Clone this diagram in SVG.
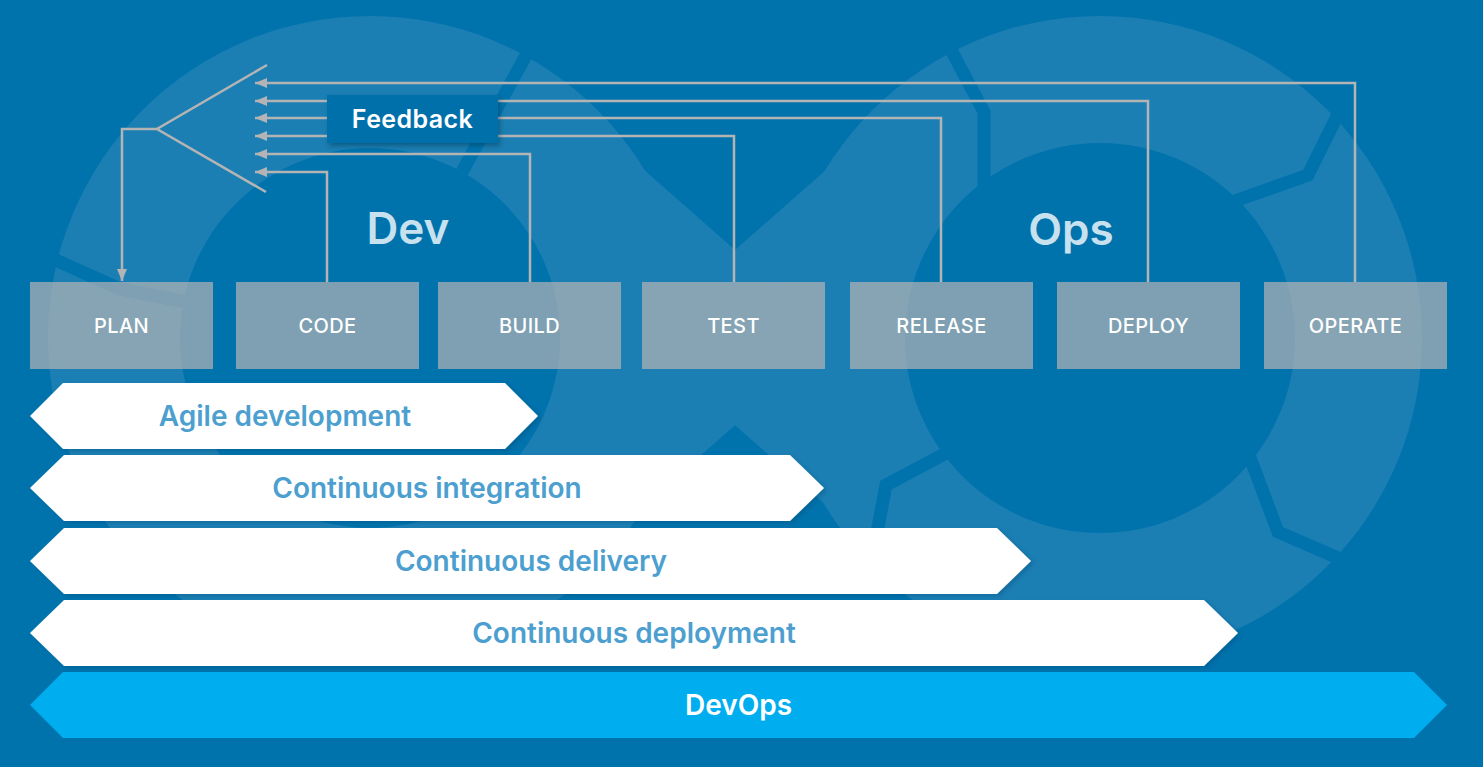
<svg xmlns="http://www.w3.org/2000/svg" width="1483" height="767" viewBox="0 0 1483 767">
<defs>
<style>
.bg-light{fill:#1b7fb4;}
.bg-dark{fill:#0073ad;}
.gap{fill:none;stroke:#0073ad;stroke-width:13;stroke-linejoin:miter;}
.stage rect{fill:#b4b4b4;fill-opacity:0.7;}
.stage text{font-family:Inter,"Noto Sans",sans-serif;font-size:20px;font-weight:500;letter-spacing:0.4px;fill:#ffffff;text-anchor:middle;}
.fb{fill:none;stroke:#b4b4b4;stroke-width:2.5;}
.chev polygon{fill:#ffffff;filter:url(#csh);}
.chev text{font-family:Inter,"Noto Sans",sans-serif;font-weight:600;font-size:28px;fill:#4c9fcf;text-anchor:middle;}
.big{font-family:Inter,"Noto Sans",sans-serif;font-weight:600;font-size:44px;fill:#c8e1ef;text-anchor:middle;}
</style>
<marker id="ah" viewBox="0 0 12 10" refX="12" refY="5" markerWidth="12" markerHeight="10" markerUnits="userSpaceOnUse" orient="auto">
<path d="M0,0 L12,5 L0,10 z" fill="#b4b4b4"/>
</marker>
<filter id="sh" x="-20%" y="-30%" width="140%" height="170%">
<feDropShadow dx="2" dy="3" stdDeviation="2.5" flood-color="#00304f" flood-opacity="0.45"/>
</filter>
<filter id="csh" x="-5%" y="-20%" width="110%" height="150%">
<feDropShadow dx="3" dy="2" stdDeviation="2" flood-color="#00406a" flood-opacity="0.3"/>
</filter>
</defs>

<g id="background">
<rect width="1483" height="767" class="bg-dark"/>
<polygon class="bg-light" points="510,52 1000,483 960,623 480,201"/>
<polygon class="bg-light" points="960,52 470,483 510,623 990,201"/>
<circle class="bg-light" cx="370" cy="338" r="322"/>
<circle class="bg-light" cx="1100" cy="338" r="322"/>
<circle class="bg-dark" cx="370" cy="338" r="190"/>
<circle class="bg-dark" cx="1100" cy="338" r="195"/>
<polyline class="gap" points="1350,90 1308,175 1232,202"/>
<polyline class="gap" points="1248,452 1278,532 1352,564"/>
<polyline class="gap" points="952,450 886,485 868,580"/>
<polyline class="gap" points="950,48 984,112 984,196"/>
<polyline class="gap" points="530,48 462,172"/>
<polyline class="gap" points="38,252 120,289 186,302"/>
</g>

<g id="labels">
<text class="big" x="408" y="244">Dev</text>
<text class="big" x="1071" y="245">Ops</text>
</g>

<g id="connectors">
<path class="fb" d="M1355,282 V83 H255" marker-end="url(#ah)"/>
<path class="fb" d="M1148,282 V101 H255" marker-end="url(#ah)"/>
<path class="fb" d="M941,282 V118 H255" marker-end="url(#ah)"/>
<path class="fb" d="M734,282 V136 H255" marker-end="url(#ah)"/>
<path class="fb" d="M530,282 V154 H255" marker-end="url(#ah)"/>
<path class="fb" d="M327,282 V172 H255" marker-end="url(#ah)"/>
<polyline class="fb" points="267,65 157,129 266,192"/>
<path class="fb" d="M157,129 H122 V281" marker-end="url(#ah)"/>
</g>

<g id="feedback">
<rect x="327" y="95" width="171" height="48" fill="#0670aa" filter="url(#sh)"/>
<text x="412.5" y="128" font-family="Inter,'Noto Sans',sans-serif" font-weight="600" font-size="25" letter-spacing="0.4" fill="#ffffff" text-anchor="middle">Feedback</text>
</g>

<g class="stage">
<g id="plan"><rect x="30" y="282" width="183" height="87"/><text x="121.5" y="333">PLAN</text></g>
<g id="code"><rect x="236" y="282" width="183" height="87"/><text x="327.5" y="333">CODE</text></g>
<g id="build"><rect x="438" y="282" width="183" height="87"/><text x="529.5" y="333">BUILD</text></g>
<g id="test"><rect x="642" y="282" width="183" height="87"/><text x="733.5" y="333">TEST</text></g>
<g id="release"><rect x="850" y="282" width="183" height="87"/><text x="941.5" y="333">RELEASE</text></g>
<g id="deploy"><rect x="1057" y="282" width="183" height="87"/><text x="1148.5" y="333">DEPLOY</text></g>
<g id="operate"><rect x="1264" y="282" width="183" height="87"/><text x="1355.5" y="333">OPERATE</text></g>
</g>

<g class="chev">
<g id="agile"><polygon points="30,416 63,383 505,383 538,416 505,449 63,449"/><text x="285" y="426">Agile development</text></g>
<g id="ci"><polygon points="30,488 64,455 790,455 824,488 790,521 64,521"/><text x="427" y="498">Continuous integration</text></g>
<g id="cd"><polygon points="30,561 64,528 997,528 1031,561 997,594 64,594"/><text x="531" y="571">Continuous delivery</text></g>
<g id="cdep"><polygon points="30,633 64,600 1204,600 1238,633 1204,666 64,666"/><text x="634" y="643">Continuous deployment</text></g>
</g>
<g id="devops">
<polygon points="30,705 63,672 1414,672 1447,705 1414,738 63,738" fill="#00aeef"/>
<text x="738.5" y="715" font-family="Inter,'Noto Sans',sans-serif" font-weight="600" font-size="28" fill="#ffffff" text-anchor="middle">DevOps</text>
</g>
</svg>
